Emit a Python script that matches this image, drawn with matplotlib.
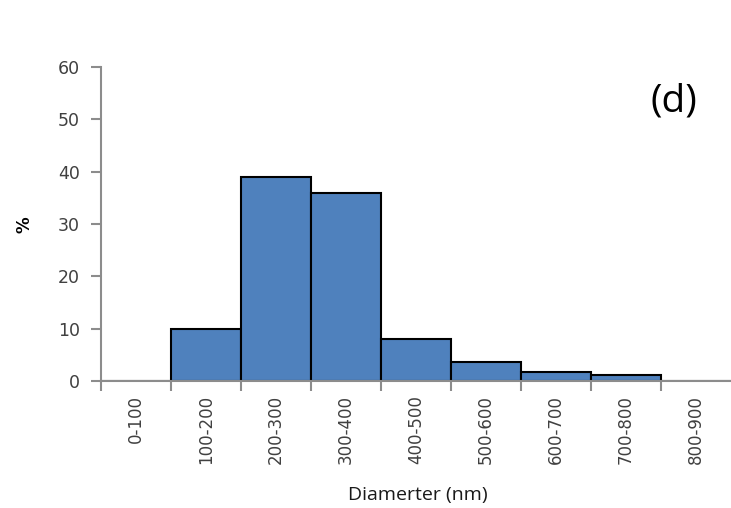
import matplotlib
matplotlib.use("Agg")
import matplotlib.pyplot as plt
import numpy as np

categories = ["0-100", "100-200", "200-300", "300-400", "400-500",
              "500-600", "600-700", "700-800", "800-900"]
percent = [0, 10, 39, 36, 8, 3.6, 1.8, 1.2, 0]
y_ticks = [0, 10, 20, 30, 40, 50, 60]

plt.rcParams["font.family"] = ["DejaVu Sans"]
axis_gray = "#8c8c8c"
bar_blue = "#4f81bd"
label_gray = "#404040"

fig = plt.figure(figsize=(7.31, 5.08), dpi=100)
ax = fig.add_axes([0.138, 0.25, 0.862, 0.618])

x = np.arange(len(categories))
ax.bar(x, percent, width=1.0, color=bar_blue, edgecolor="black", linewidth=1.5, zorder=2)

ax.set_xlim(-0.5, len(categories) - 0.5)
ax.set_ylim(0, 60)
ax.set_yticks(y_ticks)
ax.set_yticklabels([str(v) for v in y_ticks], fontsize=12.5, color=label_gray)

# ticks at the category boundaries, labels centred under each bin
ax.set_xticks(np.arange(len(categories)) - 0.5, minor=False)
ax.set_xticklabels([])
ax.set_xticks(x, minor=True)
ax.set_xticklabels(categories, minor=True, rotation=90, fontsize=12, color=label_gray)
ax.tick_params(axis="x", which="minor", length=0, pad=10)
ax.tick_params(axis="x", which="major", length=7, width=1.5, color=axis_gray)
ax.tick_params(axis="y", length=7, width=1.5, color=axis_gray, pad=8)

for side in ["top", "right"]:
    ax.spines[side].set_visible(False)
for side in ["left", "bottom"]:
    ax.spines[side].set_color(axis_gray)
    ax.spines[side].set_linewidth(1.5)
ax.spines["bottom"].set_zorder(3)

fig.text(0.034, 0.557, "%", rotation=90, fontsize=12, fontweight="bold",
         ha="center", va="center", color="black")
fig.text(0.571, 0.026, "Diamerter (nm)", fontsize=14, fontweight="medium",
         family=["Open Sans", "DejaVu Sans"],
         ha="center", va="center", color="#1a1a1a")
fig.text(0.922, 0.80, "(d)", fontsize=28, family=["Open Sans", "DejaVu Sans"],
         ha="center", va="center", color="black")

fig.savefig("out.png", dpi=100)
